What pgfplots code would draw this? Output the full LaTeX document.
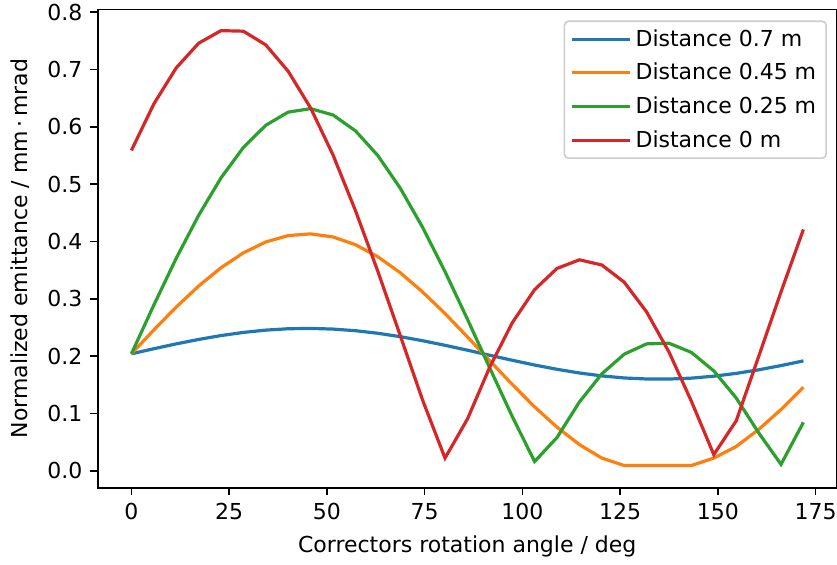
\documentclass[border=0pt]{standalone}
\usepackage{fontspec}
\setmainfont{DejaVu Sans}
\usepackage{pgfplots}
\usepackage{pgfplotstable}
\pgfplotsset{compat=1.18}
\definecolor{c0}{HTML}{1F77B4}
\definecolor{c1}{HTML}{FF7F0E}
\definecolor{c2}{HTML}{2CA02C}
\definecolor{c3}{HTML}{D62728}
\pgfplotstableread{
x        b      o      g      r
0.0000   0.2040 0.2040 0.2040 0.559
5.7296   0.2128 0.2456 0.2890 0.640
11.4592  0.2213 0.2855 0.3707 0.703
17.1887  0.2290 0.3222 0.4456 0.746
22.9183  0.2358 0.3542 0.5110 0.768
28.6479  0.2413 0.3802 0.5642 0.767
34.3775  0.2453 0.3992 0.6029 0.743
40.1070  0.2477 0.4103 0.6258 0.697
45.8366  0.2483 0.4133 0.6318 0.633
51.5662  0.2471 0.4079 0.6208 0.551
57.2958  0.2443 0.3944 0.5932 0.454
63.0254  0.2398 0.3733 0.5500 0.348
68.7549  0.2339 0.3455 0.4931 0.236
74.4845  0.2268 0.3119 0.4246 0.123
80.2141  0.2188 0.2742 0.3474 0.022
85.9437  0.2103 0.2335 0.2644 0.090
91.6732  0.2014 0.1918 0.1790 0.181
97.4028  0.1927 0.1505 0.0946 0.258
103.1324 0.1844 0.1113 0.0160 0.316
108.8620 0.1769 0.0759 0.0579 0.353
114.5916 0.1705 0.0455 0.1199 0.368
120.3211 0.1654 0.0220 0.1690 0.359
126.0507 0.1618 0.0090 0.2033 0.329
131.7803 0.1600 0.0090 0.2213 0.277
137.5099 0.1599 0.0090 0.2224 0.207
143.2394 0.1615 0.0090 0.2064 0.121
148.9690 0.1649 0.0220 0.1741 0.028
154.6986 0.1698 0.0422 0.1268 0.087
160.4282 0.1760 0.0718 0.0662 0.199
166.1578 0.1834 0.1067 0.0110 0.312
171.8873 0.1916 0.1455 0.0844 0.421
}\data
\begin{document}
\begin{tikzpicture}
\path[use as bounding box] (0,0) rectangle (418.5pt,282.5pt);
\begin{axis}[
  at={(49pt,38.65pt)}, anchor=south west,
  scale only axis, width=369.25pt, height=239.1pt,
  xmin=-8.55, xmax=180.35, ymin=-0.0297, ymax=0.8049,
  xtick={0,25,50,75,100,125,150,175},
  ytick={0,0.1,0.2,0.3,0.4,0.5,0.6,0.7,0.8},
  /pgf/number format/assume math mode=true,
  tick align=outside, major tick length=3.8pt,
  xtick pos=bottom, ytick pos=left,
  axis line style={line width=0.85pt},
  every tick/.style={black, line width=0.85pt},
  tick label style={font=\fontsize{11}{13}\selectfont, inner sep=0pt},
  xticklabel style={anchor=north, yshift=-3.8pt},
  yticklabel style={anchor=east, xshift=-3.8pt, /pgf/number format/fixed, /pgf/number format/fixed zerofill, /pgf/number format/precision=1},
  every axis x label/.style={at={(axis description cs:0.5,-0.1219)}, anchor=center, font=\fontsize{11}{13}\selectfont},
  every axis y label/.style={at={(axis description cs:-0.1056,0.5)}, anchor=center, rotate=90, font=\fontsize{11}{13}\selectfont},
  xlabel={Correctors rotation angle / deg},
  ylabel={Normalized emittance / mm\,·\,mrad},
  legend cell align=left,
  legend style={at={(rel axis cs:1,1)}, anchor=north east, xshift=-4.75pt, yshift=-5.5pt,
    draw=black!20, line width=0.8pt, rounded corners=2pt, fill=white,
    font=\fontsize{11}{13}\selectfont, inner xsep=3pt, inner ysep=2pt, row sep=3pt},
  legend image code/.code={\draw[#1] (0pt,0pt) -- (23.5pt,0pt); \path (0pt,0pt) -- (29pt,0pt);},
  every axis plot/.append style={line width=1.6pt},
]
\addplot[c0] table[x=x,y=b] {\data};
\addlegendentry{Distance 0.7 m}
\addplot[c1] table[x=x,y=o] {\data};
\addlegendentry{Distance 0.45 m}
\addplot[c2] table[x=x,y=g] {\data};
\addlegendentry{Distance 0.25 m}
\addplot[c3] table[x=x,y=r] {\data};
\addlegendentry{Distance 0 m}
\end{axis}
\end{tikzpicture}
\end{document}
